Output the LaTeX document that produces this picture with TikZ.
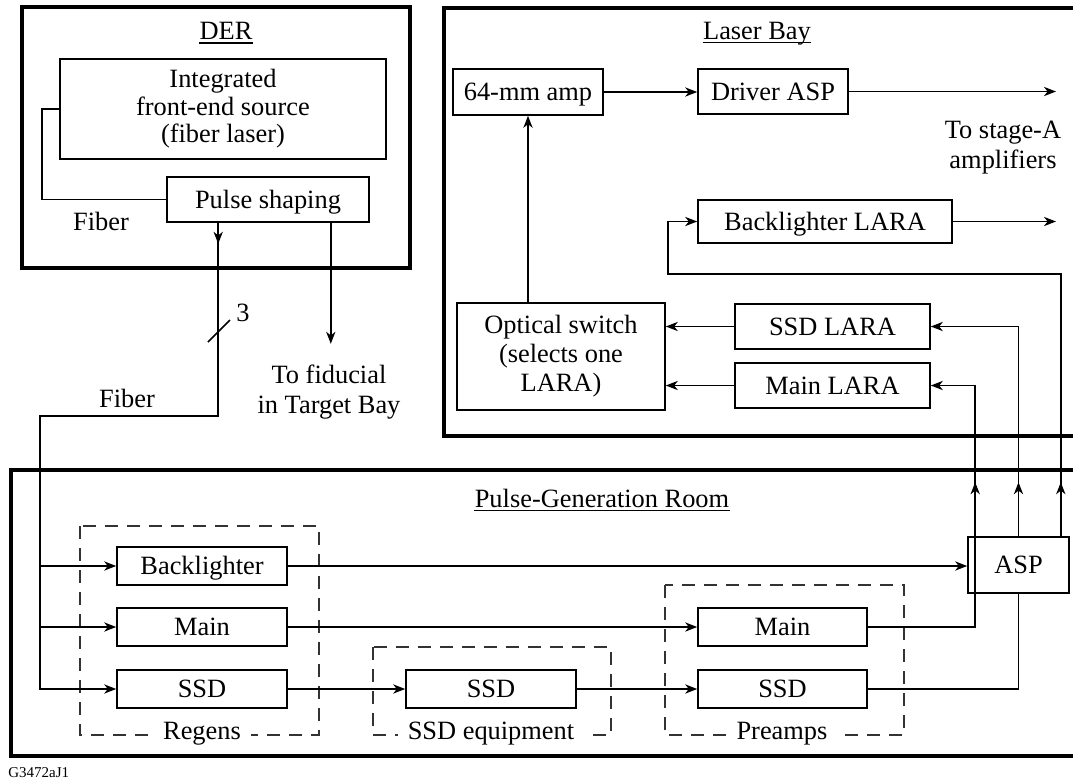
\documentclass[tikz,border=0pt]{standalone}
\usepackage{fontspec}
\setmainfont{Liberation Serif}
\usetikzlibrary{arrows.meta,calc}
\newcommand\boxfont{\fontsize{13.2}{14.5}\selectfont}
\newcommand\tagfont{\fontsize{7.5}{9}\selectfont}
\begin{document}
\begin{tikzpicture}[x=0.5pt,y=-0.5pt,
  box/.style={draw, line width=0.8pt, inner sep=0pt, align=center, font=\boxfont},
  one/.style={box, text height=11pt, text depth=2.3pt},
  room/.style={draw, line width=1.8pt},
  grp/.style={draw=black!80, line width=0.75pt, dash pattern=on 6.5pt off 4.5pt},
  wire/.style={line width=0.75pt},
  arr/.style={wire, -{Stealth[length=6pt,width=4.6pt,inset=1.8pt]}},
  lbl/.style={font=\boxfont, align=center, inner sep=0pt},
  title/.style={font=\boxfont, inner sep=0pt, anchor=base},
  uline/.style={line width=0.6pt},
  grplbl/.style={font=\boxfont, inner sep=0pt, inner xsep=5pt, fill=white, anchor=base}]

\useasboundingbox (0,0) rectangle (1073,783);
\clip (0,0) rectangle (1073,783);

% ---------- rooms ----------
\draw[room] (22,7) rectangle (410,268);
\draw[room] (444,8) rectangle (1100,436);
\draw[room] (11,470) rectangle (1100,756);

\node[title] (derT) at (226,39) {DER};
\draw[uline] ([yshift=-2pt]derT.base west) -- ([yshift=-2pt]derT.base east);
\node[title] (lbT) at (757,39) {Laser Bay};
\draw[uline] ([yshift=-1.8pt]lbT.base west) -- ([yshift=-1.8pt]lbT.base east);
\node[title] (pgT) at (602,507) {Pulse-Generation Room};
\draw[uline] ([yshift=-1.8pt]pgT.base west) -- ([yshift=-1.8pt]pgT.base east);

% ---------- DER ----------
\node[box, minimum width=163pt, minimum height=50pt, font=\fontsize{13.2}{13.8}\selectfont]
  (integ) at (223,109) {Integrated\\front-end source\\(fiber laser)};
\node[one, minimum width=101pt, minimum height=22.5pt] (pulse) at (268,199.5) {Pulse shaping};
\draw[wire] (integ.west) -- ++(-17,0) |- (pulse.west);
\node[lbl] (fib1) at (101,221) {Fiber};

% ---------- Laser Bay ----------
\node[one, minimum width=75pt, minimum height=23pt] (amp) at (528,92) {64-mm amp};
\node[one, minimum width=75pt, minimum height=22.5pt] (driver) at (773,91.5) {Driver ASP};
\node[one, minimum width=127pt, minimum height=21.5pt] (bllara) at (825,221.5) {Backlighter LARA};
\node[one, minimum width=97.5pt, minimum height=22.5pt] (ssdlara) at (832.5,326.5) {SSD LARA};
\node[one, minimum width=97.5pt, minimum height=22.5pt] (mainlara) at (832.5,385.5) {Main LARA};
\node[box, minimum width=104pt, minimum height=53.5pt] (optsw) at (561,356.5) {Optical switch\\(selects one\\LARA)};
\coordinate (outx) at (1056,0);
\node[lbl, font=\fontsize{13.2}{15}\selectfont] (stageA) at (1003,148) {To stage-A\\amplifiers};

\draw[arr] (amp.east) -- (amp.east -| driver.west);
\draw[arr] (driver.east) -- (driver.east -| outx);
\draw[arr] (bllara.east) -- (bllara.east -| outx);
\draw[arr] (amp.south |- optsw.north) -- (amp.south);
\draw[arr] (ssdlara.west) -- (ssdlara.west -| optsw.east);
\draw[arr] (mainlara.west) -- (mainlara.west -| optsw.east);

% ---------- Pulse-Generation Room ----------
\draw[grp] (80,526) rectangle (319,735);
\draw[grp] (373,647) rectangle (611,735);
\draw[grp] (665,585) rectangle (904,735);

\node[one, minimum width=85pt, minimum height=19pt] (bl) at (202,566) {Backlighter};
\node[one, minimum width=85pt, minimum height=19pt] (mainr) at (202,627) {Main};
\node[one, minimum width=85pt, minimum height=19pt] (ssdr) at (202,689) {SSD};
\node[one, minimum width=85pt, minimum height=19pt] (ssde) at (491,689) {SSD};
\node[one, minimum width=84.5pt, minimum height=19pt] (mainp) at (782.5,627) {Main};
\node[one, minimum width=84.5pt, minimum height=19pt] (ssdp) at (782.5,689) {SSD};
\node[one, minimum width=50.5pt, minimum height=28pt] (asp) at (1018.5,565) {ASP};

\node[grplbl] (regT) at (202,739) {Regens};
\node[grplbl] (ssdeT) at (491,739) {SSD equipment};
\node[grplbl] (preT) at (782,739) {Preamps};

% ---------- fibers from DER ----------
\coordinate (fa) at ($(pulse.south west)+(52,0)$);
\coordinate (fb) at ($(pulse.south east)+(-39,0)$);
\coordinate (fx) at (40,416);
\draw[arr] (fa) |- (fx) |- (ssdr.west);
\draw[arr] (fa) -- ++(0,21);
\draw[arr] (bl.west -| fx) -- (bl.west);
\draw[arr] (mainr.west -| fx) -- (mainr.west);
\draw[wire] (208,342) -- (230,320);
\node[lbl] (three) at (243,313) {3};
\node[lbl] (fib2) at (127,398) {Fiber};
\draw[arr] (fb) -- ++(0,121);
\node[lbl, font=\fontsize{13.2}{15}\selectfont] (fid) at (329,392) {To fiducial\\in Target Bay};

% ---------- pulse-generation chain ----------
\draw[arr] (bl.east) -- (bl.east -| asp.west);
\draw[arr] (mainr.east) -- (mainp.west);
\draw[arr] (ssdr.east) -- (ssde.west);
\draw[arr] (ssde.east) -- (ssdp.west);
\coordinate (p1) at ($(asp.north west)+(8,0)$);
\coordinate (p3) at ($(asp.north east)+(-9,0)$);
\draw[wire] (mainp.east) -| (p1);
\draw[wire] (ssdp.east) -| (asp.south);

% ---------- ASP outputs to the Laser Bay ----------
\draw[arr] (p1) |- (mainlara.east);
\draw[arr] (asp.north) |- (ssdlara.east);
\draw[arr] (p3) |- (668,274) |- (bllara.west);
\draw[arr] (p1) -- ++(0,-54);
\draw[arr] (asp.north) -- ++(0,-54);
\draw[arr] (p3) -- ++(0,-54);

\node[font=\tagfont, anchor=base west, inner sep=0pt] (tag) at (8,777) {G3472aJ1};
\end{tikzpicture}
\end{document}
